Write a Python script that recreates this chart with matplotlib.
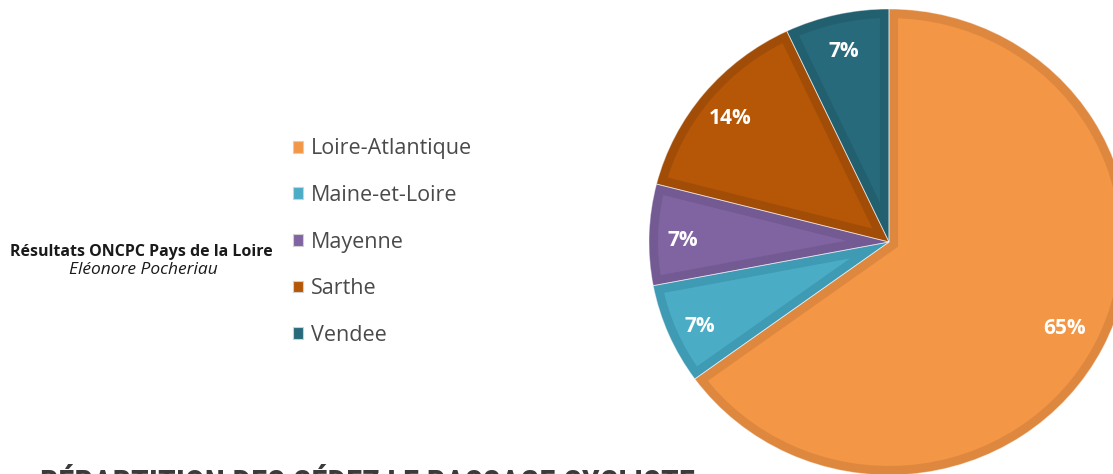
import matplotlib
matplotlib.use("Agg")
import matplotlib.pyplot as plt
from matplotlib.patches import Rectangle

categories = ["Loire-Atlantique", "Maine-et-Loire", "Mayenne", "Sarthe", "Vendee"]
values = [65, 7, 7, 14, 7]
colors = ["#F39645", "#4BACC6", "#8064A2", "#B65708", "#276A7C"]
edge_colors = ["#DE873F", "#3F9AB3", "#735A93", "#A24D07", "#22606F"]
title = "RÉPARTITION DES CÉDEZ LE PASSAGE CYCLISTE"
source_line1 = "Résultats ONCPC Pays de la Loire"
source_line2 = "Eléonore Pocheriau"

W, H = 1113, 474
fig = plt.figure(figsize=(W / 100, H / 100), dpi=100)
fig.patch.set_facecolor("white")

cx, cy = 889, 242
rx, ry = 240, 233
ax = fig.add_axes([(cx - rx) / W, (H - cy - ry) / H, 2 * rx / W, 2 * ry / H])
wedges, texts, autotexts = ax.pie(
    values, colors=colors, startangle=90, counterclock=False,
    autopct="%.0f%%", pctdistance=0.86, radius=1.0,
    textprops=dict(color="white", fontsize=15, fontweight="bold",
                   family=["Open Sans", "Lato", "DejaVu Sans"]),
)
for w, ec in zip(wedges, edge_colors):
    w.set_edgecolor(ec)
    w.set_linewidth(13)
    w.set_joinstyle("miter")
    w.set_clip_on(True)
    w.set_clip_path(w)
# thin light separators
ax.pie(values, colors=["none"] * len(values), startangle=90, counterclock=False,
       radius=1.0, wedgeprops=dict(edgecolor=(1, 1, 1, 0.55), linewidth=0.6, fill=False))
# big slice label slightly more inward
x, y = autotexts[0].get_position()
autotexts[0].set_position((x * 0.955, y * 0.955))
for t in autotexts[1:]:
    px, py = t.get_position()
    t.set_position((px, py - 0.02))
for t in autotexts:
    t.set_zorder(10)
ax.set_aspect("auto")
ax.set_xlim(-1, 1)
ax.set_ylim(-1, 1)
ax.axis("off")

handles = [Rectangle((0, 0), 1, 1, facecolor=c, edgecolor="#d0d0d0", linewidth=0.8)
           for c in colors]
leg = fig.legend(handles, categories, loc="center left",
                 bbox_to_anchor=(274 / W, 1 - 242 / H), frameon=False,
                 prop=dict(family=["Open Sans", "Lato", "DejaVu Sans"], size=15.5),
                 handlelength=0.47, handleheight=0.47, handletextpad=0.35,
                 labelspacing=1.19)
for t in leg.get_texts():
    t.set_color("#4a4a4a")

fig.text(141 / W, 1 - 252 / H, source_line1, ha="center", va="center",
         fontsize=11.5, fontweight="bold", color="#1a1a1a",
         family=["Open Sans", "Lato", "DejaVu Sans"])
fig.text(143 / W, 1 - 270 / H, source_line2, ha="center", va="center",
         fontsize=12.5, fontstyle="italic", color="#1a1a1a",
         family=["Open Sans", "Lato", "DejaVu Sans"])

fig.text(40 / W, 1 - 469 / H, title, ha="left", va="top",
         fontsize=23.7, fontweight="bold", color="#3b3b3b",
         family=["Roboto Condensed", "Liberation Sans Narrow", "DejaVu Sans"],
         fontstretch="condensed")

fig.savefig("out.png", dpi=100, facecolor="white")
